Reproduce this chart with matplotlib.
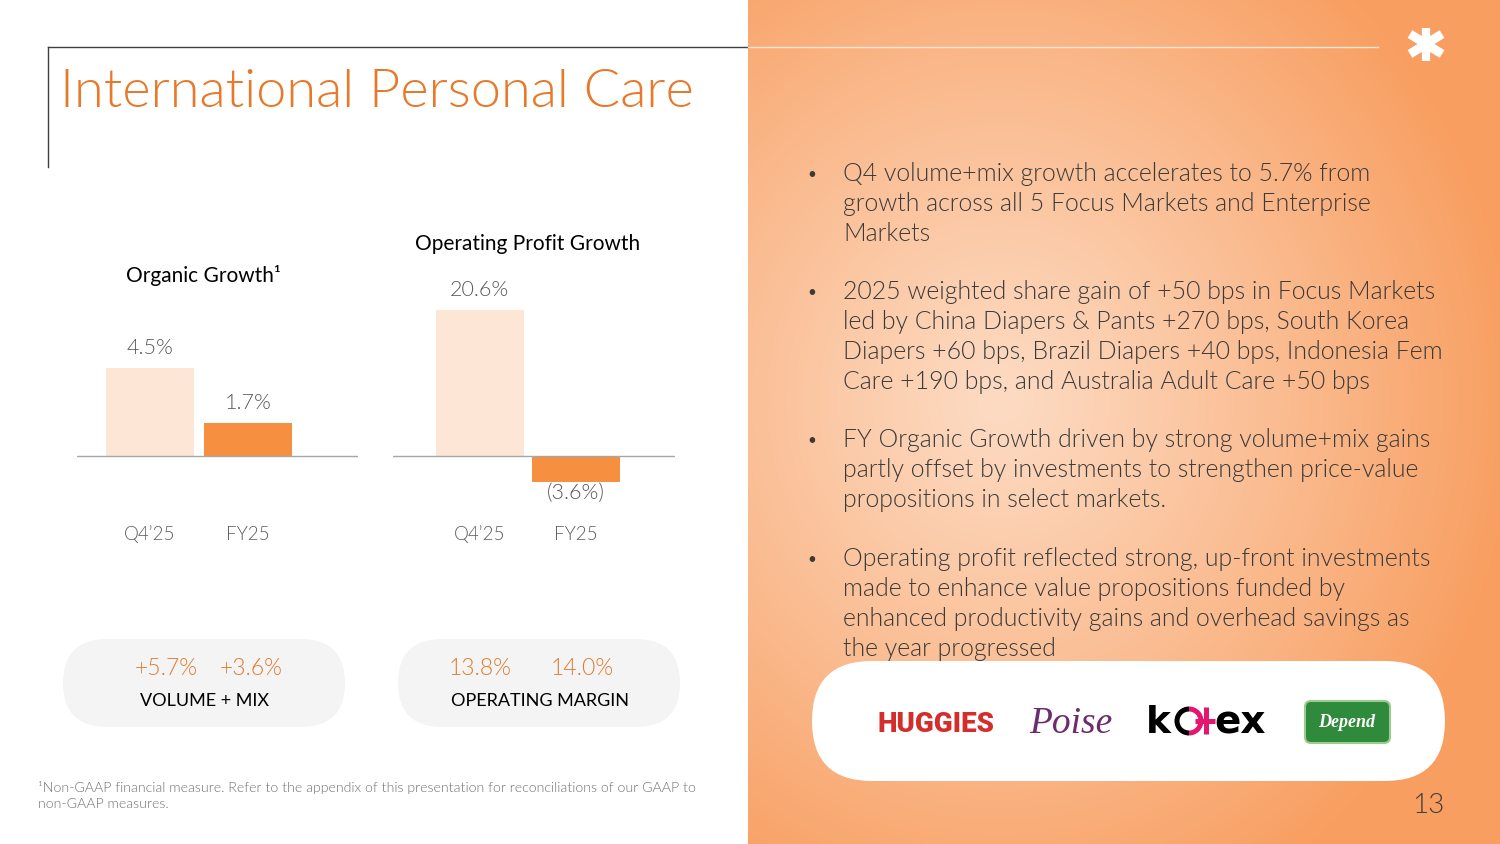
import numpy as np
import matplotlib
matplotlib.use("Agg")
import matplotlib.pyplot as plt
from matplotlib.patches import FancyBboxPatch, Arc

# ---------------- data ----------------
categories = ["Q4\u201925", "FY25"]
organic_growth = [4.5, 1.7]
organic_labels = ["4.5%", "1.7%"]
op_profit_growth = [20.6, -3.6]
op_profit_labels = ["20.6%", "(3.6%)"]
vol_mix_values = ["+5.7%", "+3.6%"]
op_margin_values = ["13.8%", "14.0%"]
bullets = [
    ["Q4 volume+mix growth accelerates to 5.7% from",
     "growth across all 5 Focus Markets and Enterprise",
     "Markets"],
    ["2025 weighted share gain of +50 bps in Focus Markets",
     "led by China Diapers & Pants +270 bps, South Korea",
     "Diapers +60 bps, Brazil Diapers +40 bps, Indonesia Fem",
     "Care +190 bps, and Australia Adult Care +50 bps"],
    ["FY Organic Growth driven by strong volume+mix gains",
     "partly offset by investments to strengthen price-value",
     "propositions in select markets."],
    ["Operating profit reflected strong, up-front investments",
     "made to enhance value propositions funded by",
     "enhanced productivity gains and overhead savings as",
     "the year progressed"],
]
bullet_first_line_y = [172, 290, 438, 557]

# ---------------- style ----------------
W, H = 1500, 844
plt.rcParams['font.family'] = ['Lato', 'DejaVu Sans']
LIGHT_BAR = "#FDE6D6"
DARK_BAR = "#F78F41"
GRAY_TXT = "#595959"
ORANGE_TITLE = "#E7792B"
ORANGE_VAL = "#E07B30"
BODY = "#3A3A3A"
LW = 300  # Lato Light

fig = plt.figure(figsize=(W / 100, H / 100), dpi=100)
fig.patch.set_facecolor("white")

# right gradient panel
gax = fig.add_axes([748 / W, 0, (W - 748) / W, 1], zorder=-3)
gx = np.arange(748, W)
gy = np.arange(H)
X, Y = np.meshgrid(gx, gy)
d = np.sqrt(((X - 1000) / 520.0) ** 2 + ((Y - 400) / 560.0) ** 2)
d = np.clip(d, 0, 1) ** 1.1
c_center = np.array([253, 219, 195]) / 255.0
c_edge = np.array([248, 158, 96]) / 255.0
img = c_center[None, None, :] + (c_edge - c_center)[None, None, :] * d[..., None]
gax.imshow(img, aspect="auto", extent=[748, W, H, 0])
gax.axis("off")

# overlay axes in pixel coordinates
ov = fig.add_axes([0, 0, 1, 1], zorder=-1)
ov.set_xlim(0, W)
ov.set_ylim(H, 0)
ov.axis("off")
ov.patch.set_alpha(0)

# frame lines
ov.plot([48, 748], [47, 47], color="#404040", lw=1)
ov.plot([748, 1378], [47, 47], color="#FDE6D6", lw=1)
ov.plot([48, 48], [47, 167], color="#404040", lw=1)

# star logo
cx, cy = 1426, 44
ov.plot([cx, cx], [28, 61], color="white", lw=6, solid_capstyle="butt")
for dx, dy in [(-16, -10), (16, -10), (-16, 10), (16, 10)]:
    ov.plot([cx, cx + dx], [cy, cy + dy], color="white", lw=6.5, solid_capstyle="butt")

# pills
for x0 in (63, 398):
    ov.add_patch(FancyBboxPatch((x0, 639), 282, 88,
                                boxstyle="round,pad=0,rounding_size=44",
                                fc="#F4F4F4", ec="none"))
ov.add_patch(FancyBboxPatch((812, 661), 633, 120,
                            boxstyle="round,pad=0,rounding_size=60",
                            fc="white", ec="none"))


def T(x, y, s, **kw):
    ov.text(x, y, s, **kw)


# title
T(60, 107, "International Personal Care", fontsize=39, color=ORANGE_TITLE,
  va="baseline", ha="left", fontweight=LW)

# chart titles
T(203, 282, "Organic Growth\u00b9", fontsize=15, color="black", ha="center", va="baseline")
T(528, 250, "Operating Profit Growth", fontsize=15, color="black", ha="center", va="baseline")


def bar_chart(left, right, top, bottom, zero_px, scale, c0_px, step_px, values, labels):
    ax = fig.add_axes([left / W, 1 - bottom / H, (right - left) / W, (bottom - top) / H])
    ax.patch.set_alpha(0)
    xs = np.arange(len(values))
    ax.bar(xs, values, width=88 / step_px, color=[LIGHT_BAR, DARK_BAR])
    ax.set_xlim((left - c0_px) / step_px, (right - c0_px) / step_px)
    ax.set_ylim(-(bottom - zero_px) / scale, (zero_px - top) / scale)
    ax.axhline(0, color="#A6A6A6", lw=1)
    ax.axis("off")
    for x, v, lab in zip(xs, values, labels):
        off = 20 if v >= 0 else -12
        ax.annotate(lab, (x, v), xytext=(0, off * 0.72), textcoords="offset points",
                    ha="center", va="center", fontsize=15.5, color=GRAY_TXT,
                    fontweight=LW, annotation_clip=False)
        ax.annotate(categories[x], (x, 0), xytext=(0, -78 * 0.72), textcoords="offset points",
                    ha="center", va="center", fontsize=13.5, color=GRAY_TXT,
                    fontweight=LW, annotation_clip=False)
    return ax


bar_chart(77, 358, 330, 470, 456, 19.6, 150, 98, organic_growth, organic_labels)
bar_chart(393, 675, 300, 490, 456, 7.1, 479.5, 96.5, op_profit_growth, op_profit_labels)

# pill texts
for xc, s in zip((166, 251), vol_mix_values):
    T(xc, 675, s, fontsize=16.5, color=ORANGE_VAL, ha="center", va="baseline", fontweight=LW)
for xc, s in zip((480, 582), op_margin_values):
    T(xc, 675, s, fontsize=16.5, color=ORANGE_VAL, ha="center", va="baseline", fontweight=LW)
T(205, 706, "VOLUME + MIX", fontsize=13, color="black", ha="center", va="baseline")
T(540, 706, "OPERATING MARGIN", fontsize=13, color="black", ha="center", va="baseline")

# footnote
T(38, 792, "\u00b9Non-GAAP financial measure. Refer to the appendix of this presentation for reconciliations of our GAAP to",
  fontsize=10.2, color="#707070", ha="left", va="baseline", fontweight=LW)
T(38, 808, "non-GAAP measures.", fontsize=10.2, color="#707070", ha="left", va="baseline",
  fontweight=LW)

# bullets
for y0, lines in zip(bullet_first_line_y, bullets):
    T(812, y0 + 7, "\u2022", fontsize=11, color=BODY, ha="center", va="baseline")
    for i, line in enumerate(lines):
        T(843, y0 + 9 + 30 * i, line, fontsize=17.9, color=BODY, ha="left",
          va="baseline", fontweight=LW)

# page number
T(1428, 813, "13", fontsize=20, color="#404040", ha="center", va="baseline", fontweight=LW)

# logos
T(936, 732, "HUGGIES", fontsize=20, color="#D42E2C", ha="center", va="baseline",
  fontweight="black", family=["Roboto", "DejaVu Sans"])
T(1071, 733, "Poise", fontsize=27, color="#6B2D6E", ha="center", va="baseline",
  style="italic", family=["Liberation Serif"])
T(1146, 733, "k", fontsize=27, color="black", ha="left", va="baseline", fontweight="bold",
  family=["DejaVu Sans"])
ov.add_patch(Arc((1189, 721), 24, 24, theta1=90, theta2=270, ec="black", lw=3.6))
ov.add_patch(Arc((1189, 721), 24, 24, theta1=-90, theta2=90, ec="#E5166F", lw=3.6))
ov.plot([1195, 1215], [721, 721], color="#E5166F", lw=3.6, solid_capstyle="butt")
ov.plot([1206, 1206], [707, 734], color="#E5166F", lw=3.6, solid_capstyle="butt")
T(1214, 733, "ex", fontsize=28, color="black", ha="left", va="baseline", fontweight="bold",
  family=["DejaVu Sans"])
ov.add_patch(FancyBboxPatch((1305, 701), 85, 42, boxstyle="round,pad=0,rounding_size=6",
                            fc="#2F8A3C", ec="#9CCB8F", lw=1.5))
T(1347, 727, "Depend", fontsize=13, color="white", ha="center", va="baseline",
  style="italic", fontweight="bold", family=["Liberation Serif"])

fig.savefig("out.png", dpi=100)
